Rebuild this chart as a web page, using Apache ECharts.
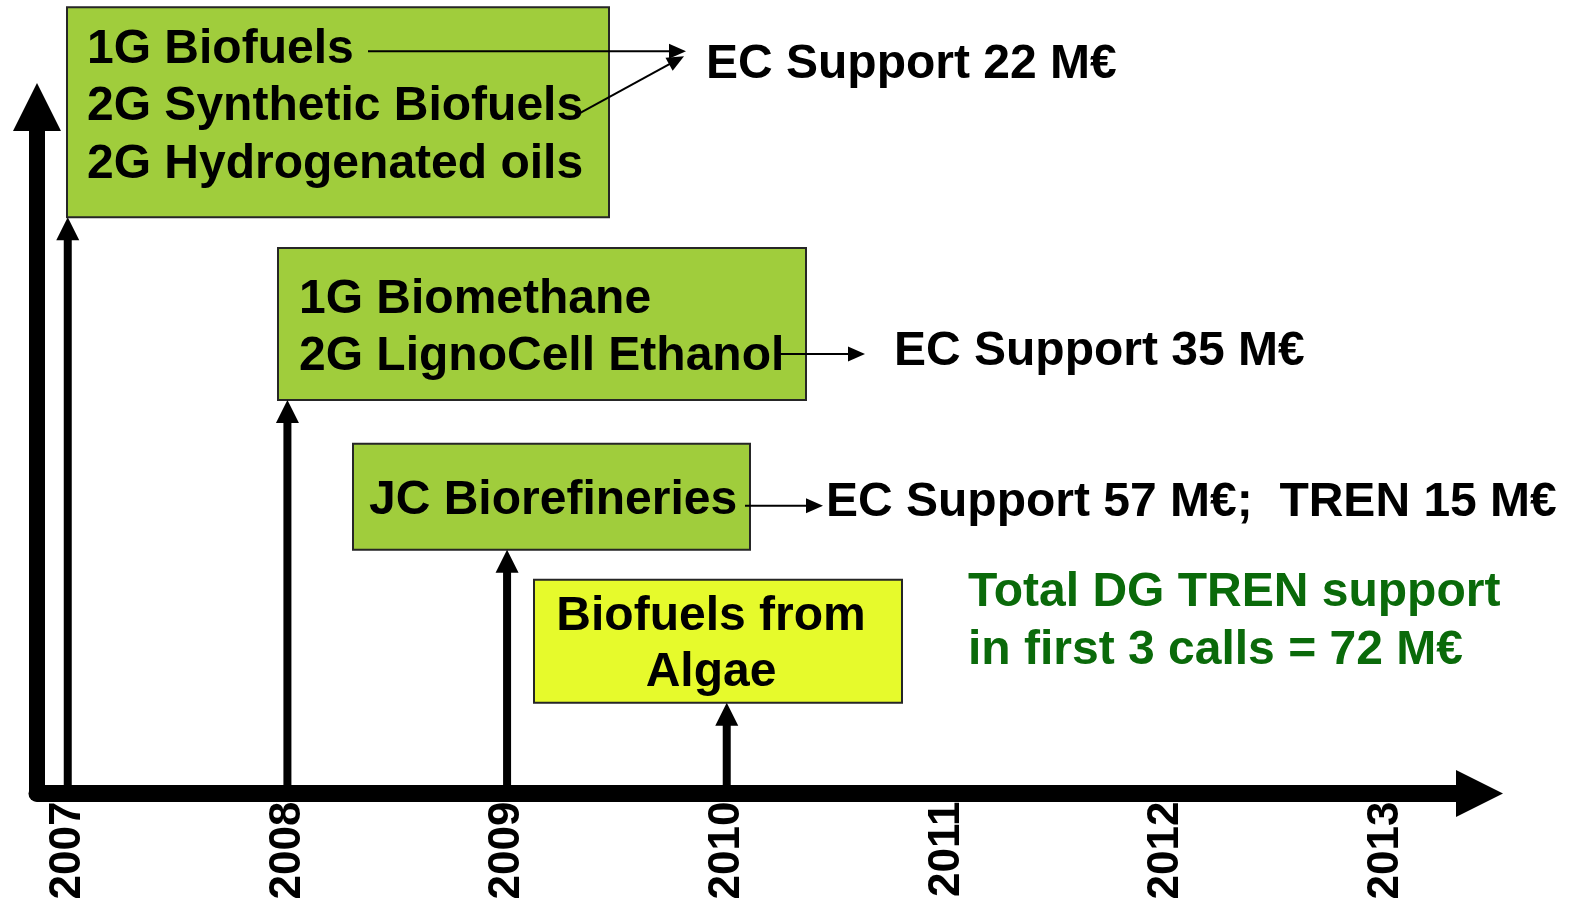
<!DOCTYPE html>
<html><head><meta charset="utf-8">
<script src="https://cdn.jsdelivr.net/npm/echarts@6/dist/echarts.min.js"></script>
<style>html,body{margin:0;padding:0;background:#fff}#c{width:1573px;height:906px}</style>
</head><body><div id="c"></div>
<script>
// ---- data ----
const yearLabels = ['2007', '2008', '2009', '2010', '2011', '2012', '2013'];
const callYears = [2007, 2008, 2009, 2010];
const callLevels = [87, 59.4, 36.8, 13.7];
const callTopics = [
  ['1G Biofuels', '2G Synthetic Biofuels', '2G Hydrogenated oils'],
  ['1G Biomethane', '2G LignoCell Ethanol'],
  ['JC Biorefineries'],
  ['Biofuels from', 'Algae']
];
const supportLabels = ['EC Support 22 M€', 'EC Support 35 M€', 'EC Support 57 M€;  TREN 15 M€', ''];
const totalNote = ['Total DG TREN support', 'in first 3 calls = 72 M€'];

// ---- layout / style (pixels) ----
const FONT = 'bold 48px "Liberation Sans", Arial, sans-serif';
const GREEN = '#a0cd3c', YELLOW = '#e6fa2c';
const boxLayout = [
  { left: 67, width: 542, height: 210, fill: GREEN, textX: 20, align: 'left', lineY: [43, 100, 158],
    connectors: [[301, 44, 619, 44], [511, 107, 617, 49]], support: [639, 58] },
  { left: 278, width: 528, height: 152, fill: GREEN, textX: 21, align: 'left', lineY: [52, 109],
    connectors: [[502, 106, 587, 106]], support: [616, 104] },
  { left: 353, width: 397, height: 106, fill: GREEN, textX: 16, align: 'left', lineY: [57],
    connectors: [[392, 62, 470, 62]], support: [473, 59] },
  { left: 534, width: 368, height: 123, fill: YELLOW, textX: 177, align: 'center', lineY: [37, 93],
    connectors: [], support: null }
];

function head(tx, ty, fx, fy, len, wid) {
  const dx = tx - fx, dy = ty - fy, d = Math.hypot(dx, dy);
  const ux = dx / d, uy = dy / d;
  const bx = tx - ux * len, by = ty - uy * len;
  const px = -uy, py = ux;
  return { type: 'polygon', shape: { points: [[tx, ty], [bx + px * wid / 2, by + py * wid / 2], [bx - px * wid / 2, by - py * wid / 2]] },
    style: { fill: '#000' } };
}

function renderItem(params, api) {
  const i = params.dataIndex;
  const year = api.value(0), level = api.value(1);
  const base = api.coord([year, 0]);
  const tip = api.coord([year, level]);
  const L = boxLayout[i];
  const top = tip[1] - L.height;
  const ch = [];
  ch.push({ type: 'rect', shape: { x: L.left, y: top, width: L.width, height: L.height },
    style: { fill: L.fill, stroke: '#262626', lineWidth: 2 } });
  ch.push({ type: 'line', shape: { x1: tip[0], y1: base[1], x2: tip[0], y2: tip[1] + 20 },
    style: { stroke: '#000', lineWidth: 8 } });
  ch.push(head(tip[0], tip[1], tip[0], base[1], 23, 23));
  callTopics[i].forEach((t, k) => {
    ch.push({ type: 'text', x: L.left + L.textX, y: top + L.lineY[k],
      style: { text: t, font: FONT, fill: '#000', align: L.align, verticalAlign: 'middle' } });
  });
  L.connectors.forEach(c => {
    const x1 = L.left + c[0], y1 = top + c[1], x2 = L.left + c[2], y2 = top + c[3];
    const d = Math.hypot(x2 - x1, y2 - y1);
    const ex = x2 - (x2 - x1) / d * 14, ey = y2 - (y2 - y1) / d * 14;
    ch.push({ type: 'line', shape: { x1: x1, y1: y1, x2: ex, y2: ey }, style: { stroke: '#000', lineWidth: 2 } });
    ch.push(head(x2, y2, x1, y1, 17, 15));
  });
  if (L.support && supportLabels[i]) {
    ch.push({ type: 'text', x: L.left + L.support[0], y: top + L.support[1],
      style: { text: supportLabels[i], font: FONT, fill: '#000', align: 'left', verticalAlign: 'middle' } });
  }
  return { type: 'group', children: ch };
}

const chart = echarts.init(document.getElementById('c'), null, { renderer: 'canvas' });
chart.setOption({
  animation: false,
  backgroundColor: '#fff',
  grid: { left: 37, right: 117, top: 131, bottom: 112.5, containLabel: false, outerBoundsMode: 'none' },
  xAxis: {
    type: 'value', min: 2006.86, max: 2013.32,
    splitLine: { show: false }, axisTick: { show: false },
    axisLine: { show: true, onZero: false, symbol: ['none', 'triangle'], symbolSize: [47, 47], symbolOffset: [0, 23.5],
      lineStyle: { color: '#000', width: 17 } },
    axisLabel: {
      customValues: yearLabels.map(Number),
      formatter: v => String(v),
      rotate: 90, margin: 8, color: '#000',
      fontFamily: '"Liberation Sans", Arial, sans-serif', fontWeight: 'bold', fontSize: 44
    }
  },
  yAxis: {
    type: 'value', min: 0, max: 100,
    splitLine: { show: false }, axisTick: { show: false }, axisLabel: { show: false },
    axisLine: { show: true, symbol: ['none', 'triangle'], symbolSize: [48, 48], symbolOffset: [0, 24],
      lineStyle: { color: '#000', width: 16 } }
  },
  graphic: totalNote.map((t, k) => ({
    type: 'text', x: 968, y: 593 + k * 58,
    style: { text: t, font: FONT, fill: '#0a6a0a', align: 'left', verticalAlign: 'middle' }
  })),
  series: [{
    type: 'custom',
    coordinateSystem: 'cartesian2d',
    clip: false,
    renderItem: renderItem,
    data: callYears.map((y, i) => [y, callLevels[i]])
  }]
});
</script>
</body></html>
